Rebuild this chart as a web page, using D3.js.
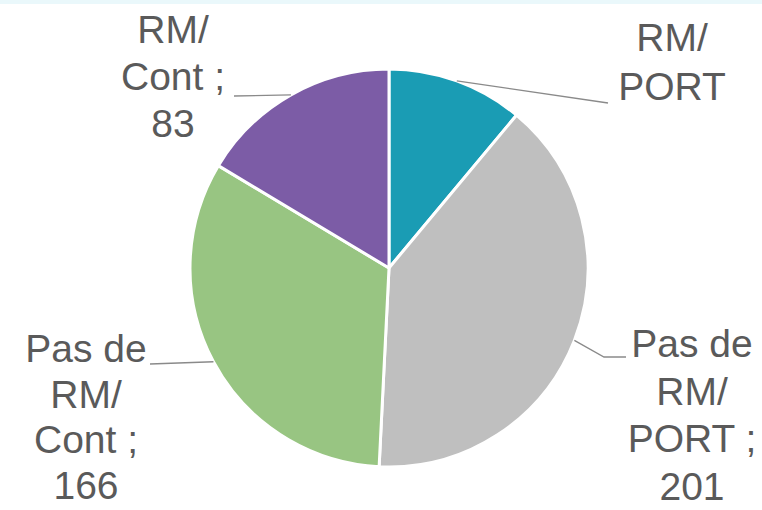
<!DOCTYPE html>
<html><head><meta charset="utf-8">
<script src="https://cdn.jsdelivr.net/npm/d3@7"></script>
<style>html,body{margin:0;padding:0;background:#fff;} svg{display:block}</style>
</head><body>
<svg id="chart" width="762" height="510"></svg>
<script>
// Slice data, clockwise from 12 o'clock
const categories = ["RM/ PORT", "Pas de RM/ PORT", "Pas de RM/ Cont", "RM/ Cont"];
const categoryLines = [["RM/", "PORT"], ["Pas de", "RM/", "PORT"], ["Pas de", "RM/", "Cont"], ["RM/", "Cont"]];
const values = [56, 201, 166, 83];
const showValue = [false, true, true, true];
const colors = ["#1a9cb4", "#bfbfbf", "#98c582", "#7c5ca6"];

const W = 762, H = 510;
const cx = 389, cy = 268, R = 199;

// Label anchors: text centre x, first baseline y, line step, leader polyline end points
const labelLayout = [
  { x: 672, y: 51,  step: 49,   leader: [[608, 103]] },
  { x: 692, y: 357, step: 47.7, leader: [[604, 357], [626, 357]] },
  { x: 86,  y: 362, step: 45.7, leader: [[150, 364]] },
  { x: 173, y: 43,  step: 47,   leader: [[234, 96]] }
];

const svg = d3.select("#chart");
svg.append("rect").attr("width", W).attr("height", H).attr("fill", "#ffffff");
svg.append("rect").attr("width", W).attr("height", 4).attr("fill", "#eaf8fb");

const pie = d3.pie().sort(null).value(d => d.value).startAngle(0).endAngle(2 * Math.PI);
const rows = categories.map((c, i) => ({ category: c, value: values[i], i }));
const arcs = pie(rows);
const arc = d3.arc().innerRadius(0).outerRadius(R);

const g = svg.append("g").attr("transform", `translate(${cx},${cy})`);
g.selectAll("path.slice").data(arcs).join("path")
  .attr("class", "slice")
  .attr("d", arc)
  .attr("fill", d => colors[d.data.i])
  .attr("stroke", "#ffffff")
  .attr("stroke-width", 3)
  .attr("stroke-linejoin", "round");

// Leader lines from the arc midpoint of each slice
arcs.forEach(d => {
  const mid = (d.startAngle + d.endAngle) / 2;
  const p0 = [cx + R * Math.sin(mid), cy - R * Math.cos(mid)];
  const pts = [p0].concat(labelLayout[d.data.i].leader);
  svg.append("path")
    .attr("d", d3.line()(pts))
    .attr("fill", "none")
    .attr("stroke", "#8a8a8a")
    .attr("stroke-width", 1.3);
});

// Data labels
arcs.forEach(d => {
  const i = d.data.i;
  const lay = labelLayout[i];
  const lines = categoryLines[i].slice();
  if (showValue[i]) {
    lines[lines.length - 1] += " ;";
    lines.push(String(values[i]));
  }
  const t = svg.append("text")
    .attr("x", lay.x).attr("y", lay.y)
    .attr("text-anchor", "middle")
    .attr("font-family", "Liberation Sans, Arial, sans-serif")
    .attr("font-size", 39)
    .attr("fill", "#5a5a5a");
  lines.forEach((ln, k) => {
    t.append("tspan").attr("x", lay.x).attr("y", lay.y + k * lay.step).text(ln);
  });
});
</script>
</body></html>
